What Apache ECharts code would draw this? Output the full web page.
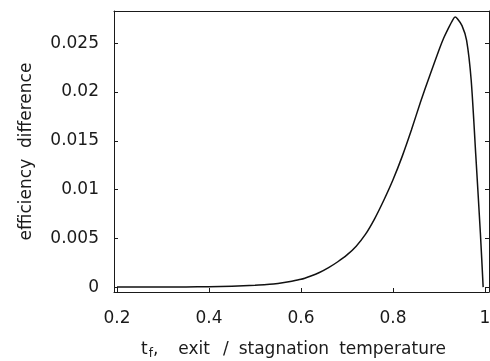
<!DOCTYPE html>
<html>
<head>
<meta charset="utf-8">
<script src="https://cdn.jsdelivr.net/npm/echarts@6/dist/echarts.min.js"></script>
<style>
  html, body { margin: 0; padding: 0; background: #fff; }
  #chart { width: 490px; height: 361px; }
</style>
</head>
<body>
<div id="chart"></div>
<script>
// exit / stagnation temperature ratio
const tf = [0.2, 0.25, 0.3, 0.35, 0.4, 0.45, 0.5, 0.52, 0.54, 0.56, 0.58, 0.6, 0.62, 0.64, 0.66, 0.68, 0.7,
  0.72, 0.74, 0.76, 0.78, 0.8, 0.82, 0.84, 0.86, 0.88, 0.9, 0.91, 0.92, 0.93, 0.935, 0.94, 0.95, 0.96, 0.97, 0.98, 0.99, 0.996]
// efficiency difference
const effDiff = [0, 0, 0.00001, 0.00002, 0.00004, 0.0001, 0.00018, 0.00024, 0.00032, 0.00044, 0.0006, 0.0008, 0.00112, 0.0015, 0.002, 0.0026, 0.0033,
  0.0042, 0.0054, 0.007, 0.0089, 0.011, 0.0134, 0.0161, 0.019, 0.0217, 0.0243, 0.0255, 0.0265, 0.0274, 0.02768, 0.0275, 0.0268, 0.0253, 0.0212, 0.0135, 0.0055, 0]
const xTicks = [0.2, 0.4, 0.6, 0.8, 1]
const yTicks = [0, 0.005, 0.01, 0.015, 0.02, 0.025]

const font = 'DejaVu Sans'
const ink = '#1a1a1a'

const xRange = { min: 0.1935, max: 1.0087 }
const yRange = { min: -0.0005, max: 0.0283 }

const frameLine = { show: true, onZero: false, lineStyle: { color: ink, width: 1 } }
const tick = (vals) => ({ show: true, inside: true, length: 4, customValues: vals, lineStyle: { color: ink } })
const word = (pl) => ({ fontFamily: font, fontSize: 17, color: ink, padding: [0, 0, 0, pl] })

const option = {
  animation: false,
  backgroundColor: '#fff',
  grid: { left: 114, right: 1, top: 11, bottom: 69, containLabel: false, outerBoundsMode: 'none' },
  xAxis: [
    {
      type: 'value',
      ...xRange,
      axisLine: frameLine,
      axisTick: tick(xTicks),
      splitLine: { show: false },
      axisLabel: {
        customValues: xTicks,
        margin: 18,
        fontFamily: font,
        fontSize: 17,
        color: ink,
        formatter: (v) => String(+v.toFixed(3))
      },
      name: '{a|t}{s|f}{a|,}{b|exit}{c|/}{d|stagnation}{d|temperature}',
      nameLocation: 'middle',
      nameGap: 47,
      nameTextStyle: {
        padding: [0, 16, 0, 0],
        rich: {
          a: word(0),
          s: { fontFamily: font, fontSize: 12, color: ink, padding: [9, 0, 0, 1] },
          b: word(20),
          c: word(13),
          d: word(10)
        }
      }
    },
    {
      type: 'value',
      position: 'top',
      ...xRange,
      axisLine: frameLine,
      axisTick: { show: false },
      axisLabel: { show: false },
      splitLine: { show: false }
    }
  ],
  yAxis: [
    {
      type: 'value',
      ...yRange,
      axisLine: frameLine,
      axisTick: tick(yTicks),
      splitLine: { show: false },
      axisLabel: {
        customValues: yTicks,
        margin: 15,
        fontFamily: font,
        fontSize: 17,
        color: ink,
        formatter: (v) => String(+v.toFixed(4))
      },
      name: 'efficiency  difference',
      nameLocation: 'middle',
      nameGap: 79,
      nameTextStyle: { fontFamily: font, fontSize: 17, color: ink }
    },
    {
      type: 'value',
      position: 'right',
      ...yRange,
      axisLine: frameLine,
      axisTick: tick(yTicks),
      axisLabel: { show: false },
      splitLine: { show: false }
    }
  ],
  series: [
    {
      type: 'line',
      data: tf.map((x, i) => [x, effDiff[i]]),
      smooth: 0.25,
      showSymbol: false,
      lineStyle: { color: '#111', width: 1.5 }
    }
  ]
}

const chart = echarts.init(document.getElementById('chart'))
chart.setOption(option)
</script>
</body>
</html>
